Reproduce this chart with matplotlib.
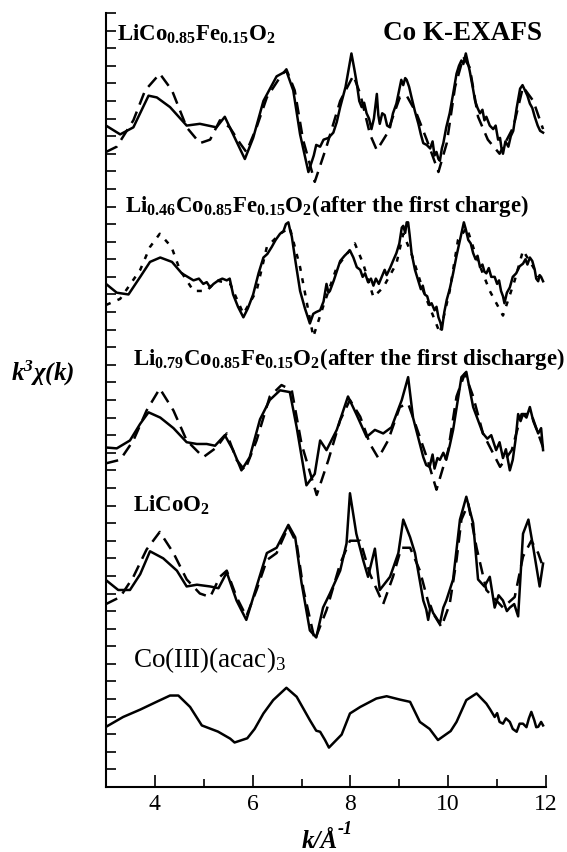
import matplotlib
matplotlib.use("Agg")
from matplotlib import pyplot as plt
from matplotlib.ticker import MultipleLocator

plt.rcParams["font.family"] = ["Liberation Serif", "DejaVu Serif"]
plt.rcParams["mathtext.fontset"] = "custom"
plt.rcParams["mathtext.rm"] = "Liberation Serif"
plt.rcParams["mathtext.bf"] = "Liberation Serif:bold"
plt.rcParams["mathtext.it"] = "Liberation Serif:italic"
plt.rcParams["mathtext.bfit"] = "Liberation Serif:italic:bold"

# LiCo0.85Fe0.15O2 (as prepared): experiment (solid) and fit (dashed)
k_a_exp = [3.0, 3.29, 3.56, 3.87, 4.04, 4.31, 4.65, 4.92, 5.26, 5.43, 5.6, 5.84, 6.01, 6.22,
           6.49, 6.69, 6.83, 6.97, 7.14, 7.25, 7.3, 7.38, 7.45, 7.55, 7.65, 7.72, 7.79, 7.9,
           8.02, 8.08, 8.13, 8.18, 8.23, 8.28, 8.33, 8.38, 8.43, 8.48, 8.54, 8.57, 8.6, 8.65,
           8.7, 8.75, 8.81, 8.87, 8.94, 9.04, 9.08, 9.12, 9.15, 9.2, 9.25, 9.32, 9.39, 9.44,
           9.49, 9.56, 9.63, 9.68, 9.72, 9.76, 9.8, 9.83, 9.87, 9.9, 9.96, 10.03, 10.1, 10.17,
           10.22, 10.27, 10.31, 10.36, 10.4, 10.44, 10.5, 10.55, 10.6, 10.65, 10.7, 10.74,
           10.78, 10.85, 10.92, 10.97, 11.02, 11.06, 11.09, 11.12, 11.17, 11.23, 11.28, 11.33,
           11.4, 11.47, 11.52, 11.57, 11.62, 11.67, 11.72, 11.77, 11.83, 11.88, 11.94]
chi_a_exp = [37.6, 37.1, 37.5, 39.3, 39.2, 38.65, 37.6, 37.7, 37.5, 38.1, 37.1, 35.7, 36.9, 39.0,
             40.4, 40.7, 39.6, 37.1, 34.96, 35.9, 36.5, 36.4, 36.8, 36.9, 37.2, 37.8, 38.65, 39.8,
             41.7, 40.8, 40.0, 39.0, 38.65, 38.9, 38.3, 38.0, 37.4, 38.0, 39.4, 38.2, 37.7, 38.3,
             38.2, 37.6, 37.5, 38.3, 38.85, 40.2, 39.9, 40.3, 40.2, 39.8, 39.2, 38.4, 37.7, 37.1,
             36.6, 36.5, 36.3, 36.7, 35.9, 36.1, 35.7, 35.6, 36.3, 36.6, 37.5, 38.3, 39.4, 40.55,
             41.0, 41.3, 41.1, 41.7, 41.2, 40.7, 39.8, 39.0, 38.6, 38.3, 38.5, 37.9,
             38.1, 37.6, 37.4, 37.6, 36.8, 36.9, 36.3, 36.0, 36.7, 36.4, 37.0, 37.3,
             38.6, 39.7, 39.9, 39.6, 39.3, 38.85, 38.6, 38.1, 37.6, 37.3, 37.2]
k_a_fit = [3.0, 3.22, 3.56, 3.8, 4.1, 4.35, 4.65, 4.92, 5.13, 5.33, 5.53, 5.74, 5.87, 6.08,
           6.29, 6.56, 6.69, 6.86, 7.03, 7.27, 7.51, 7.79, 8.06, 8.2, 8.4, 8.54, 8.74, 9.01,
           9.15, 9.35, 9.56, 9.8, 9.97, 10.14, 10.31, 10.44, 10.61, 10.81, 11.05, 11.33, 11.53,
           11.74, 11.94]
chi_a_fit = [36.1, 36.4, 37.9, 39.6, 40.55, 39.6, 37.5, 36.6, 36.8, 37.9, 37.5, 36.6, 36.1, 37.5,
             39.2, 40.35, 40.8, 39.6, 36.8, 34.4, 36.4, 39.0, 40.45, 39.4, 37.1, 36.2, 37.1, 39.2,
             39.3, 38.3, 36.8, 34.96, 36.6, 39.8, 41.5, 40.9, 38.1, 36.8, 36.0, 37.5, 39.8,
             39.0, 37.4]

# Li0.46Co0.85Fe0.15O2 (after the first charge)
k_b_exp = [3.0, 3.22, 3.46, 3.7, 3.9, 4.11, 4.35, 4.55, 4.79, 4.9, 4.99, 5.06, 5.13, 5.2, 5.3,
           5.38, 5.47, 5.53, 5.6, 5.7, 5.81, 5.9, 6.01, 6.12, 6.22, 6.3, 6.39, 6.47, 6.56, 6.63,
           6.68, 6.73, 6.77, 6.8, 6.88, 6.97, 7.07, 7.17, 7.24, 7.3, 7.38, 7.45, 7.51, 7.55,
           7.58, 7.66, 7.72, 7.79, 7.88, 7.99, 8.06, 8.13, 8.2, 8.25, 8.3, 8.36, 8.42, 8.47,
           8.52, 8.58, 8.64, 8.7, 8.74, 8.81, 8.87, 8.94, 9.0, 9.05, 9.08, 9.12, 9.15, 9.18,
           9.21, 9.25, 9.32, 9.39, 9.44, 9.48, 9.52, 9.57, 9.62, 9.66, 9.72, 9.76, 9.8, 9.84,
           9.87, 9.92, 9.97, 10.03, 10.1, 10.17, 10.24, 10.28, 10.32, 10.36, 10.41, 10.46,
           10.51, 10.56, 10.6, 10.65, 10.7, 10.74, 10.78, 10.83, 10.88, 10.95, 11.0, 11.04,
           11.08, 11.12, 11.15, 11.2, 11.26, 11.32, 11.39, 11.46, 11.53, 11.58, 11.62, 11.67,
           11.72, 11.77, 11.8, 11.84, 11.87, 11.9, 11.94]
chi_b_exp = [28.6, 28.1, 28.0, 29.0, 29.85, 30.1, 29.85, 29.2, 28.8, 28.9, 28.6, 28.7, 28.4, 28.6,
             28.8, 28.9, 28.8, 28.9, 28.0, 27.3, 26.7, 27.2, 28.0, 29.2, 30.1, 30.3, 30.7, 31.1,
             31.45, 31.6, 32.0, 32.1, 31.6, 31.3, 29.8, 28.2, 27.2, 26.35, 26.9, 27.0, 27.1,
             27.6, 28.6, 28.1, 28.2, 28.8, 29.3, 29.9, 30.2, 30.5, 30.1, 29.55, 29.4, 29.0, 29.2,
             28.7, 28.9, 28.5, 28.9, 28.6, 29.0, 29.4, 29.1, 29.5, 29.9, 30.35, 30.9, 31.8, 31.9,
             31.5, 32.1, 32.1, 31.4, 30.35, 29.4, 28.75, 28.3, 28.5, 28.0, 27.9, 27.4, 27.5,
             27.1, 27.3, 26.7, 26.4, 26.0, 27.0, 27.7, 28.3, 29.2, 30.2, 31.1, 31.6, 32.1, 31.7,
             31.1, 30.9, 30.35, 30.0, 30.2, 29.55, 29.7, 29.3, 29.2, 29.5, 29.0, 29.0, 28.6,
             28.8, 28.2, 27.9, 27.5, 28.1, 28.4, 29.0, 29.2, 29.6, 29.75, 30.0, 29.7, 30.1,
             29.9, 29.4, 28.9, 28.75, 29.1, 29.0, 28.75]
k_b_fit = [3.0, 3.29, 3.7, 3.9, 4.1, 4.34, 4.51, 4.79, 5.06, 5.26, 5.54, 5.81, 6.08, 6.29, 6.56,
           6.76, 6.97, 7.24, 7.44, 7.72, 8.09, 8.26, 8.47, 8.67, 8.94, 9.08, 9.25, 9.49, 9.83,
           10.03, 10.2, 10.38, 10.58, 10.85, 11.12, 11.36, 11.53, 11.74, 11.84]
chi_b_fit = [27.4, 27.75, 29.4, 30.7, 31.45, 30.7, 29.4, 28.2, 28.2, 28.8, 28.6, 26.9, 28.2, 30.7,
             31.45, 31.8, 29.55, 25.6, 27.3, 29.55, 30.9, 29.75, 27.85, 28.4, 29.75, 31.45, 30.3,
             28.2, 25.8, 28.2, 31.1, 31.8, 30.1, 28.2, 26.8, 28.8, 30.5, 29.55, 29.0]

# Li0.79Co0.85Fe0.15O2 (after the first discharge)
k_c_exp = [3.0, 3.22, 3.49, 3.7, 3.87, 4.11, 4.38, 4.65, 4.86, 5.06, 5.23, 5.43, 5.6, 5.77, 5.94,
           6.15, 6.35, 6.56, 6.76, 6.9, 7.1, 7.27, 7.38, 7.51, 7.72, 7.95, 8.12, 8.33, 8.5,
           8.67, 8.84, 9.05, 9.18, 9.28, 9.49, 9.55, 9.62, 9.68, 9.72, 9.78, 9.83, 9.9, 9.96,
           10.03, 10.1, 10.27, 10.37, 10.51, 10.71, 10.8, 10.88, 10.98, 11.05, 11.12, 11.18,
           11.26, 11.32, 11.38, 11.43, 11.48, 11.53, 11.6, 11.67, 11.74, 11.84, 11.9, 11.94]
chi_c_exp = [19.3, 19.25, 19.7, 20.65, 21.3, 21.0, 20.4, 19.6, 19.5, 19.5, 19.4, 20.0, 19.15, 18.0,
             18.75, 20.9, 22.0, 22.55, 22.45, 20.45, 17.15, 17.8, 19.7, 19.15, 20.3, 22.2, 21.2,
             19.9, 20.3, 20.1, 20.45, 22.0, 23.3, 21.0, 18.75, 18.3, 18.2, 18.9, 18.1, 18.7,
             18.6, 19.0, 18.6, 19.4, 20.3, 23.3, 23.6, 21.6, 20.1, 19.8, 20.0, 19.15, 19.6, 18.7,
             19.2, 18.0, 18.6, 19.8, 21.2, 20.8, 21.2, 21.0, 21.6, 20.8, 20.1, 20.4, 19.15]
k_c_fit = [3.0, 3.29, 3.56, 3.83, 4.1, 4.38, 4.65, 4.99, 5.26, 5.47, 5.67, 5.84, 6.08, 6.35,
           6.59, 6.8, 7.0, 7.31, 7.55, 7.79, 7.99, 8.2, 8.4, 8.57, 8.77, 9.01, 9.18, 9.35,
           9.56, 9.76, 10.0, 10.17, 10.34, 10.51, 10.71, 11.06, 11.3, 11.5, 11.7, 11.94]
chi_c_fit = [18.4, 18.6, 19.7, 21.4, 22.65, 21.4, 19.7, 18.75, 19.3, 20.1, 18.6, 18.0, 19.7, 22.2,
             22.85, 22.55, 19.5, 16.6, 18.6, 20.85, 22.0, 21.05, 19.5, 18.7, 19.7, 21.6, 21.8,
             20.45, 18.75, 16.9, 19.15, 22.2, 23.5, 22.2, 20.1, 18.2, 19.15, 21.2, 21.2, 19.3]

# LiCoO2
k_d_exp = [3.0, 3.25, 3.49, 3.7, 3.9, 4.17, 4.45, 4.65, 4.86, 5.13, 5.3, 5.47, 5.67, 5.87, 6.08,
           6.29, 6.49, 6.73, 6.87, 7.0, 7.17, 7.3, 7.44, 7.58, 7.79, 7.92, 7.99, 8.12, 8.26,
           8.36, 8.5, 8.6, 8.81, 8.98, 9.08, 9.22, 9.32, 9.49, 9.55, 9.59, 9.64, 9.69, 9.76,
           9.83, 9.9, 9.96, 10.1, 10.24, 10.37, 10.51, 10.61, 10.74, 10.85, 10.95, 11.03,
           11.12, 11.2, 11.26, 11.35, 11.43, 11.53, 11.64, 11.74, 11.87, 11.94]
chi_d_exp = [11.76, 11.2, 11.2, 12.1, 13.4, 13.0, 12.3, 11.4, 11.5, 11.4, 11.3, 12.2, 10.6, 9.5,
             11.4, 13.3, 13.6, 14.9, 14.2, 11.6, 8.9, 8.5, 10.2, 11.0, 12.3, 13.85, 16.7, 14.4,
             12.9, 11.95, 13.55, 11.2, 11.95, 13.3, 15.2, 14.2, 13.3, 10.6, 10.1, 9.5, 10.3,
             9.9, 9.6, 9.3, 10.2, 10.6, 11.8, 15.2, 16.5, 15.0, 11.8, 11.4, 11.95, 10.2, 10.9,
             10.6, 10.0, 10.2, 10.4, 9.7, 14.4, 15.2, 13.6, 11.4, 12.7]
k_d_fit = [3.0, 3.29, 3.56, 3.83, 4.1, 4.38, 4.65, 4.92, 5.13, 5.33, 5.47, 5.67, 5.87, 6.08,
           6.29, 6.49, 6.73, 6.9, 7.04, 7.27, 7.51, 7.79, 7.99, 8.2, 8.4, 8.67, 8.87, 9.04,
           9.22, 9.42, 9.62, 9.86, 10.03, 10.17, 10.27, 10.41, 10.58, 10.78, 11.12, 11.36,
           11.53, 11.7, 11.84, 11.94]
chi_d_fit = [10.4, 10.8, 11.95, 13.5, 14.5, 13.3, 11.8, 11.0, 10.8, 11.95, 12.3, 10.8, 9.7, 11.2,
             12.9, 13.3, 14.8, 13.85, 11.2, 8.35, 10.05, 12.7, 14.0, 14.0, 12.1, 10.4, 11.95,
             13.6, 13.6, 12.3, 10.2, 9.1, 10.4, 12.9, 15.2, 16.1, 13.6, 11.2, 10.2, 10.8, 13.1,
             14.0, 13.3, 12.5]

# Co(III)(acac)3 reference
k_e = [3.0, 3.35, 3.7, 4.04, 4.31, 4.48, 4.72, 4.96, 5.29, 5.54, 5.63, 5.89, 6.04, 6.22, 6.42,
       6.69, 6.9, 7.17, 7.3, 7.38, 7.48, 7.56, 7.82, 7.99, 8.2, 8.53, 8.74, 9.01, 9.22, 9.42,
       9.62, 9.79, 10.05, 10.17, 10.37, 10.58, 10.78, 10.86, 10.95, 11.0, 11.05, 11.12, 11.18,
       11.26, 11.32, 11.4, 11.46, 11.53, 11.6, 11.65, 11.7, 11.76, 11.8, 11.84, 11.9, 11.94]
chi_e = [3.42, 3.98, 4.4, 4.85, 5.2, 5.2, 4.55, 3.5, 3.15, 2.75, 2.53, 2.77, 3.3, 4.18, 4.94,
         5.64, 5.13, 3.8, 3.2, 3.14, 2.67, 2.24, 2.98, 4.18, 4.55, 5.03, 5.16, 4.97, 4.84, 3.7,
         3.3, 2.67, 3.18, 3.7, 4.94, 5.32, 4.74, 4.4, 3.98, 4.2, 3.7, 3.6, 3.9,
         3.7, 3.3, 3.14, 3.6, 3.6, 3.4, 3.9, 4.27, 3.8, 3.4, 3.42, 3.7, 3.5]

fig = plt.figure(figsize=(5.67, 8.52), dpi=100)
ax = fig.add_axes([106 / 567, 65 / 852, 440 / 567, 774 / 852])

dash = (0, (5, 3))
dots = (0, (2, 3))
lw = 1.8
ax.plot(k_a_exp, chi_a_exp, color="black", lw=lw)
ax.plot(k_a_fit, chi_a_fit, color="black", lw=lw, ls=dash)
ax.plot(k_b_exp, chi_b_exp, color="black", lw=lw)
ax.plot(k_b_fit, chi_b_fit, color="black", lw=lw, ls=dots)
ax.plot(k_c_exp, chi_c_exp, color="black", lw=lw)
ax.plot(k_c_fit, chi_c_fit, color="black", lw=lw, ls=dash)
ax.plot(k_d_exp, chi_d_exp, color="black", lw=lw)
ax.plot(k_d_fit, chi_d_fit, color="black", lw=lw, ls=dash)
ax.plot(k_e, chi_e, color="black", lw=lw)

ax.set_xlim(3, 12)
ax.set_ylim(0, 44)
ax.spines["top"].set_visible(False)
ax.spines["right"].set_visible(False)
ax.spines["left"].set_linewidth(1.5)
ax.spines["bottom"].set_linewidth(1.5)
ax.xaxis.set_major_locator(MultipleLocator(2))
ax.xaxis.set_minor_locator(MultipleLocator(1))
ax.yaxis.set_major_locator(MultipleLocator(1))
ax.tick_params(axis="x", which="major", direction="in", length=9, width=1.2, labelsize=17, pad=5)
ax.tick_params(axis="x", which="minor", direction="in", length=6, width=1.2)
ax.tick_params(axis="y", which="major", direction="in", length=7, width=1.2, labelleft=False)

bold = dict(fontsize=16.5, fontweight="bold")
ax.text(3.22, 42.44, r"LiCo$_{\mathbf{0.85}}$Fe$_{\mathbf{0.15}}$O$_{\mathbf{2}}$",
        ha="left", va="baseline", **bold)
ax.text(11.92, 42.44, "Co K-EXAFS", ha="right", va="baseline", fontsize=19.5, fontweight="bold")
ax.text(3.39, 32.7,
        r"Li$_{\mathbf{0.46}}$Co$_{\mathbf{0.85}}$Fe$_{\mathbf{0.15}}$O$_{\mathbf{2}}$(after the first charge)",
        ha="left", va="baseline", **bold)
ax.text(3.55, 24.0,
        r"Li$_{\mathbf{0.79}}$Co$_{\mathbf{0.85}}$Fe$_{\mathbf{0.15}}$O$_{\mathbf{2}}$(after the first discharge)",
        ha="left", va="baseline", **bold)
ax.text(3.55, 15.64, r"LiCoO$_{\mathbf{2}}$", ha="left", va="baseline", **bold)
ax.text(3.55, 6.84, r"Co(III)(acac)$_{3}$", ha="left", va="baseline", fontsize=19.5)

fig.text(43 / 567, 1 - 373 / 852, r"k$^{\mathbfit{3}}$χ(k)", ha="center", va="center",
         fontsize=18, fontweight="bold", fontstyle="italic")
fig.text(302 / 567, 1 - 848 / 852, "k/Å", ha="left", va="baseline",
         fontsize=18, fontweight="bold", fontstyle="italic")
fig.text(338 / 567, 1 - 834 / 852, "-1", ha="left", va="baseline",
         fontsize=13, fontweight="bold", fontstyle="italic")

fig.savefig("out.png", dpi=100)
